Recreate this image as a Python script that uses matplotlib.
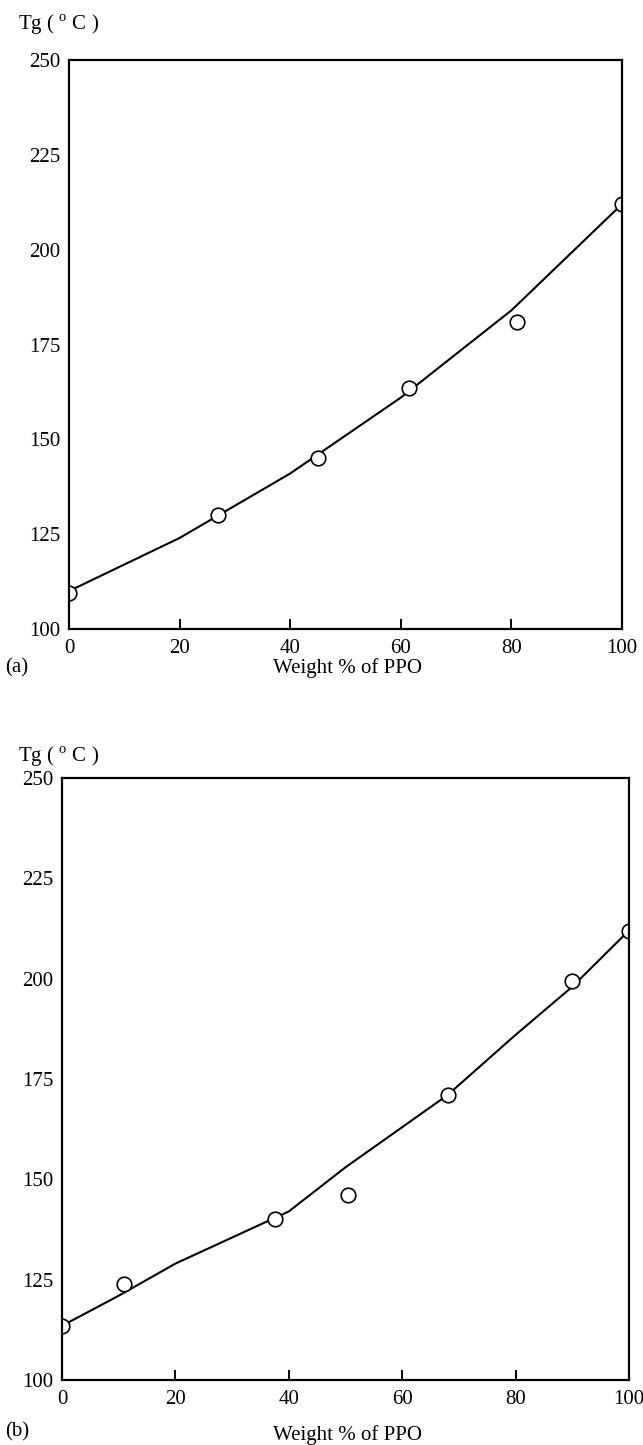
import matplotlib
matplotlib.use("Agg")
import matplotlib.pyplot as plt

plt.rcParams['font.family'] = ['Liberation Serif', 'DejaVu Serif']
plt.rcParams['mathtext.fontset'] = 'custom'
plt.rcParams['mathtext.rm'] = 'Liberation Serif'

# panel (a)
a_pts_x = [0, 27, 45, 61.5, 81, 100]
a_pts_y = [109.5, 130, 145, 163.5, 181, 212]
a_line_x = [0, 20, 40, 60, 80, 100]
a_line_y = [110, 124, 141, 161, 184, 212]

# panel (b)
b_pts_x = [0, 11, 37.5, 50.5, 68, 90, 100]
b_pts_y = [113.5, 124, 140, 146, 171, 199.5, 212]
b_line_x = [0, 10, 20, 40, 50, 68, 80, 90, 100]
b_line_y = [113.5, 121, 129, 142, 153, 171, 186, 198, 212]

xticks = [0, 20, 40, 60, 80, 100]
yticks = [100, 125, 150, 175, 200, 225, 250]

W, H = 643, 1445
fig = plt.figure(figsize=(W / 100, H / 100), dpi=100)


def make_axes(px_left, px_right, px_top, px_bottom):
    return fig.add_axes([px_left / W, 1 - px_bottom / H,
                         (px_right - px_left) / W, (px_bottom - px_top) / H])


def draw(ax, px, py, lx, ly, xpad):
    ax.plot(lx, ly, color='black', lw=1.5)
    ax.plot(px, py, 'o', mfc='white', mec='black', ms=10.5, mew=1.2)
    ax.set_xlim(0, 100)
    ax.set_ylim(100, 250)
    ax.set_xticks(xticks)
    ax.set_yticks(yticks)
    for s in ax.spines.values():
        s.set_linewidth(1.6)
    ax.tick_params(axis='x', direction='in', length=7, width=1.4,
                   labelsize=15, pad=xpad)
    ax.tick_params(axis='y', length=0, labelsize=15, pad=6)
    # keep the 0 and 100 tick marks off the frame corners
    ax.xaxis.get_major_ticks()[0].tick1line.set_visible(False)
    ax.xaxis.get_major_ticks()[-1].tick1line.set_visible(False)


ax1 = make_axes(69, 622, 60, 629)
draw(ax1, a_pts_x, a_pts_y, a_line_x, a_line_y, 7)

ax2 = make_axes(62, 629, 778, 1380)
draw(ax2, b_pts_x, b_pts_y, b_line_x, b_line_y, 7)

fs = 15
tg = 'Tg ( $^{\\rm o}$ C )'
fig.text(18 / W, 1 - 25 / H, tg, fontsize=fs, va='center')
fig.text(5 / W, 1 - 668 / H, '(a)', fontsize=fs, va='center')
fig.text(347 / W, 1 - 668 / H, 'Weight % of PPO', fontsize=fs,
         va='center', ha='center')

fig.text(18 / W, 1 - 757 / H, tg, fontsize=fs, va='center')
fig.text(5 / W, 1 - 1432 / H, '(b)', fontsize=fs, va='center')
fig.text(347 / W, 1 - 1435 / H, 'Weight % of PPO', fontsize=fs,
         va='center', ha='center')

fig.savefig('out.png', dpi=100)
